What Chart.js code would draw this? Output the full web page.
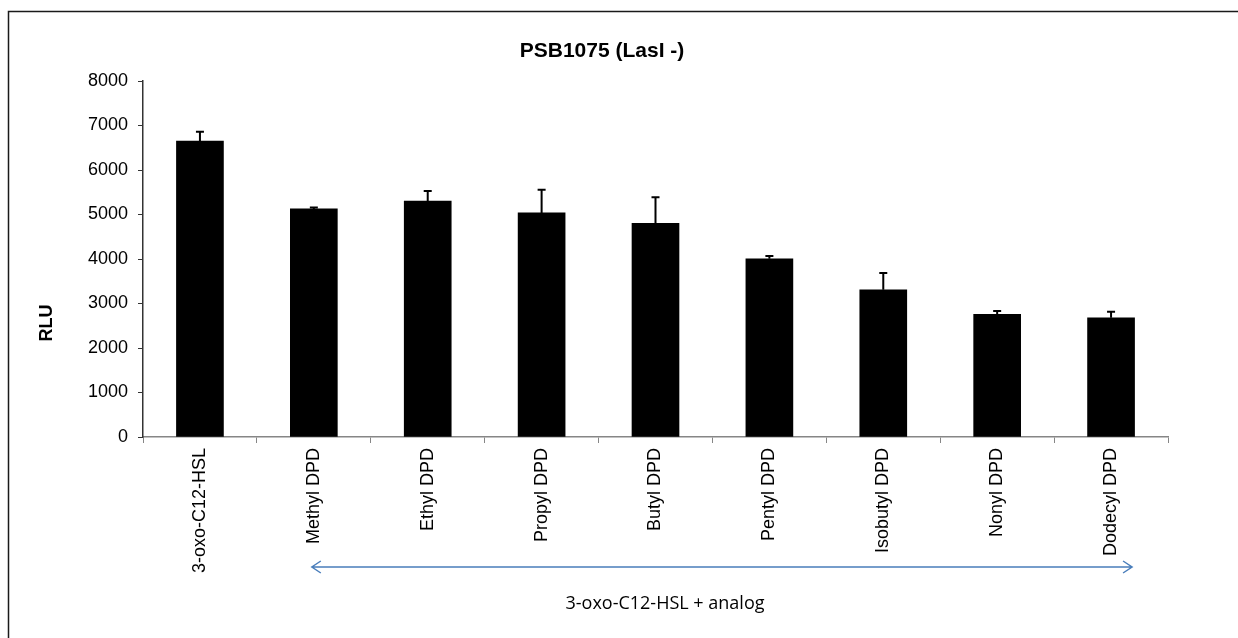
<!DOCTYPE html>
<html>
<head>
<meta charset="utf-8">
<script src="https://cdn.jsdelivr.net/npm/chart.js@4.4.1/dist/chart.umd.min.js"></script>
<style>
  html, body { margin: 0; padding: 0; background: #fff; }
  #wrap { position: relative; width: 1238px; height: 638px; }
</style>
</head>
<body>
<div id="wrap"><canvas id="myChart"></canvas></div>
<script>
const categories = ['3-oxo-C12-HSL', 'Methyl DPD', 'Ethyl DPD', 'Propyl DPD', 'Butyl DPD',
                    'Pentyl DPD', 'Isobutyl DPD', 'Nonyl DPD', 'Dodecyl DPD']
const rluMeans = [6650, 5125, 5300, 5035, 4800, 4005, 3310, 2755, 2680]
const rluErrors = [210, 30, 230, 520, 585, 60, 375, 75, 135]
const yTicks = [0, 1000, 2000, 3000, 4000, 5000, 6000, 7000, 8000]

const chartTitle = 'PSB1075 (LasI -)'
const yTitle = 'RLU'
const groupLabel = '3-oxo-C12-HSL + analog'

// error bars, frame, titles and the bracket arrow
const extras = {
  id: 'extras',
  beforeDraw(chart) {
    const c = chart.ctx
    c.save()
    c.strokeStyle = '#1a1a1a'
    c.lineWidth = 1.5
    c.beginPath()
    c.moveTo(8.5, 638)
    c.lineTo(8.5, 11.5)
    c.lineTo(1238, 11.5)
    c.stroke()
    c.restore()
  },
  afterDatasetsDraw(chart) {
    const c = chart.ctx
    const meta = chart.getDatasetMeta(0)
    const y = chart.scales.y
    c.save()
    c.strokeStyle = '#000'
    c.lineWidth = 2
    meta.data.forEach((bar, i) => {
      const top = y.getPixelForValue(rluMeans[i] + rluErrors[i])
      c.beginPath()
      c.moveTo(bar.x, bar.y)
      c.lineTo(bar.x, top)
      c.moveTo(bar.x - 4, top)
      c.lineTo(bar.x + 4, top)
      c.stroke()
    })
    c.restore()
  },
  afterDraw(chart) {
    const c = chart.ctx
    const x = chart.scales.x
    c.save()
    c.fillStyle = '#000'
    c.textAlign = 'center'
    c.textBaseline = 'middle'
    c.font = 'bold 21px "Liberation Sans", Arial, sans-serif'
    c.fillText(chartTitle, 602, 51)

    c.translate(47, 323)
    c.rotate(-Math.PI / 2)
    c.font = 'bold 18px "Liberation Sans", Arial, sans-serif'
    c.fillText(yTitle, 0, 0)
    c.restore()

    // bracket arrow under the analog categories
    const x1 = x.getPixelForValue(1) - 2
    const x2 = x.getPixelForValue(8) + 21
    const ay = 567
    c.save()
    c.strokeStyle = '#4a7ebb'
    c.lineWidth = 1.5
    c.beginPath()
    c.moveTo(x1, ay)
    c.lineTo(x2, ay)
    c.moveTo(x1 + 9, ay - 6)
    c.lineTo(x1, ay)
    c.lineTo(x1 + 9, ay + 6)
    c.moveTo(x2 - 9, ay - 6)
    c.lineTo(x2, ay)
    c.lineTo(x2 - 9, ay + 6)
    c.stroke()
    c.fillStyle = '#000'
    c.textAlign = 'center'
    c.textBaseline = 'middle'
    c.font = '18px "Open Sans", sans-serif'
    c.fillText(groupLabel, 665, 604)
    c.restore()
  }
}

const ctx = document.getElementById('myChart').getContext('2d')
const myChart = new Chart(ctx, {
  type: 'bar',
  data: {
    labels: categories,
    datasets: [{
      data: rluMeans,
      backgroundColor: '#000',
      borderWidth: 0,
      barThickness: 47
    }]
  },
  options: {
    responsive: true,
    maintainAspectRatio: false,
    animation: false,
    events: [],
    layout: { padding: { left: 0, top: 81, right: 70, bottom: 0 } },
    plugins: {
      legend: { display: false },
      tooltip: { enabled: false },
      title: { display: false }
    },
    scales: {
      x: {
        offset: true,
        border: { color: '#868686', width: 1.5 },
        grid: { offset: true, drawOnChartArea: false, drawTicks: true, tickLength: 6, color: '#868686' },
        ticks: {
          color: '#000',
          font: { family: '"Liberation Sans", Arial, sans-serif', size: 18 },
          minRotation: 90,
          maxRotation: 90,
          padding: 5,
          autoSkip: false
        },
        afterFit(scale) { scale.height = 201 }
      },
      y: {
        min: 0,
        max: 8000,
        border: { color: '#333', width: 1.5 },
        grid: { drawOnChartArea: false, drawTicks: true, tickLength: 5, color: '#333' },
        afterBuildTicks(scale) { scale.ticks = yTicks.map(v => ({ value: v })) },
        ticks: {
          color: '#000',
          font: { family: '"Liberation Sans", Arial, sans-serif', size: 18 },
          padding: 10,
          callback: v => String(v)
        },
        afterFit(scale) { scale.width = 143 }
      }
    }
  },
  plugins: [extras]
})
</script>
</body>
</html>
